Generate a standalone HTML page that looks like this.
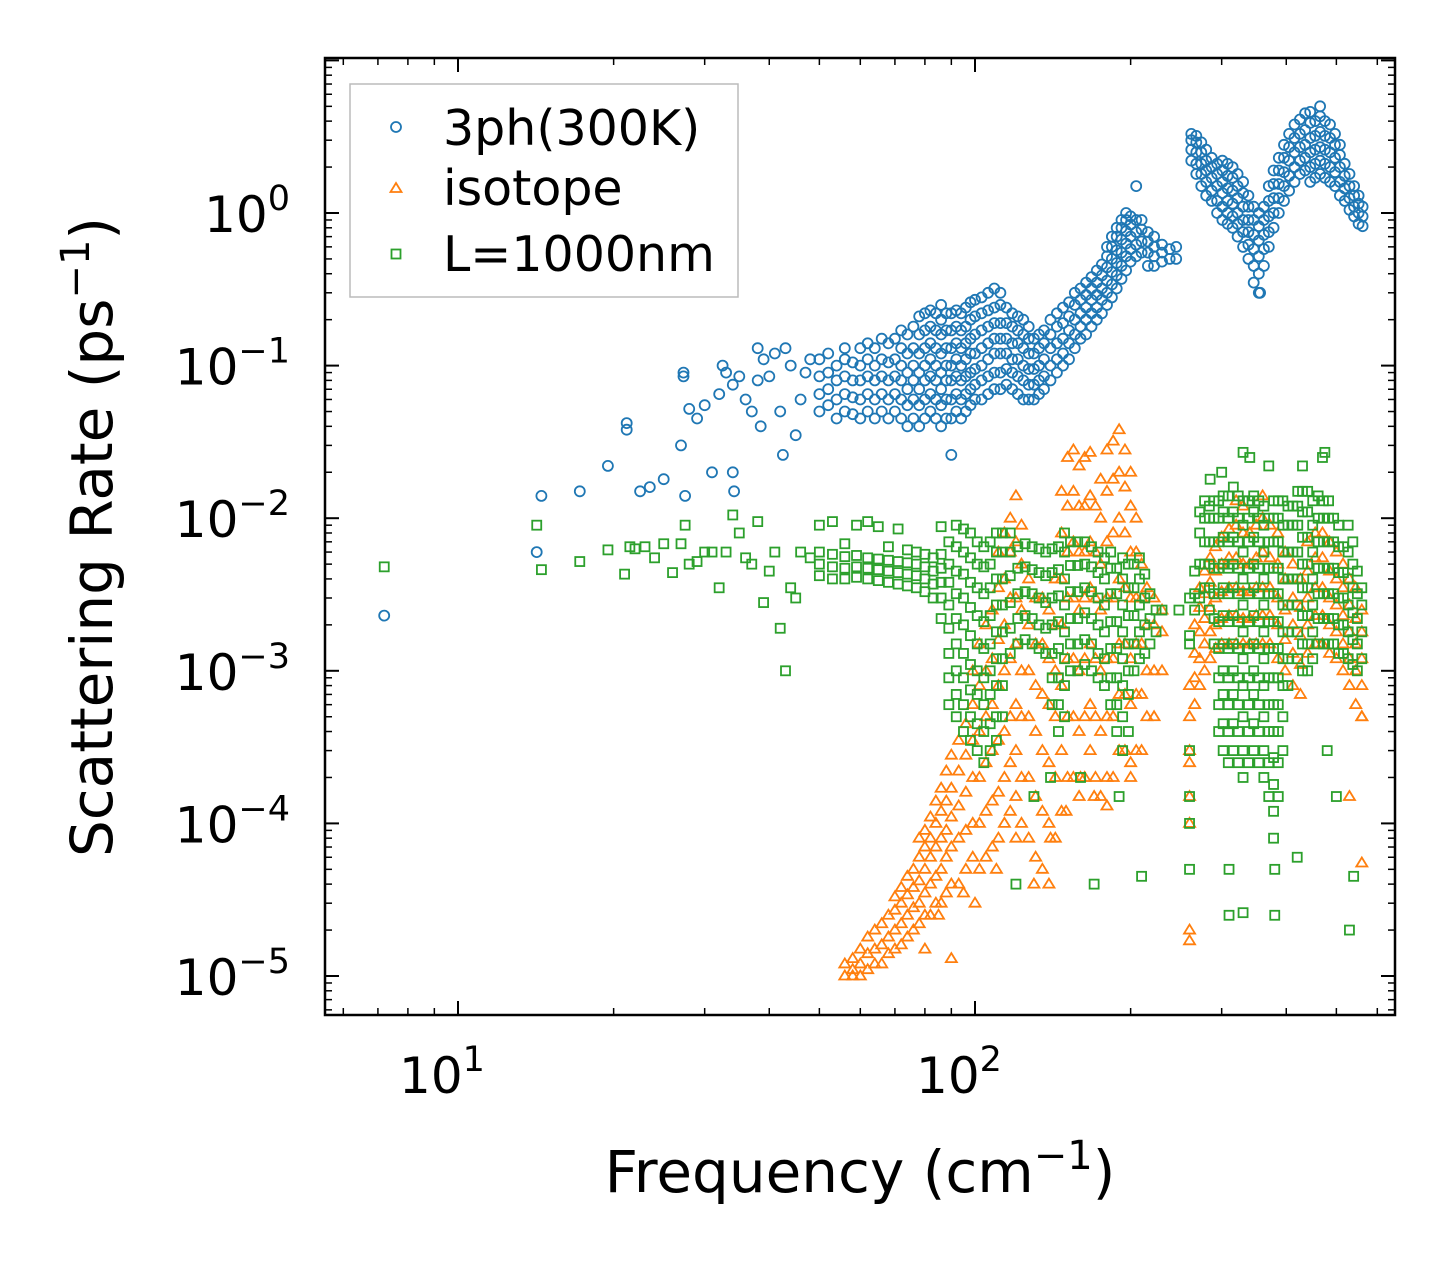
<!DOCTYPE html>
<html><head><meta charset="utf-8"><style>
html,body{margin:0;padding:0;background:#fff;}
svg{display:block;font-family:"DejaVu Sans","Liberation Sans",sans-serif;}
</style></head><body>
<svg id="chart" width="1455" height="1265" viewBox="0 0 1455 1265" xmlns="http://www.w3.org/2000/svg">
<rect width="1455" height="1265" fill="#fff"/>
<g id="marks"></g>
<g id="axes"></g>
<text x="860" y="1192" font-size="58" text-anchor="middle">Frequency (cm<tspan dy="-23" font-size="40">−1</tspan><tspan dy="23">)</tspan></text>
<text transform="translate(112,537) rotate(-90)" font-size="58" text-anchor="middle">Scattering Rate (ps<tspan dy="-23" font-size="40">−1</tspan><tspan dy="23">)</tspan></text>
<g id="legend">
<rect x="350" y="84" width="388" height="213" fill="#fff" stroke="#bbb" stroke-width="1.5"/>
<circle cx="396" cy="127" r="5" fill="none" stroke="#1f77b4" stroke-width="1.8"/>
<text x="443" y="145" font-size="49">3ph(300K)</text>
<polygon points="396,183 401.5,192 390.5,192" fill="none" stroke="#ff7f0e" stroke-width="1.8"/>
<text x="443" y="205" font-size="49">isotope</text>
<rect x="391.5" y="249.5" width="9" height="9" fill="none" stroke="#2ca02c" stroke-width="1.8"/>
<text x="443" y="271" font-size="49">L=1000nm</text>
</g>
</svg>
<script>
// ---- data (frequency cm^-1, rate ps^-1) ----
const blueScatter=[[7.2,0.0023],[14.2,0.006],[14.5,0.014],[17.2,0.015],[19.5,0.022],[21.2,0.042],[21.2,0.038],[22.5,0.015],[23.5,0.016],[25,0.018],[27,0.03],[27.3,0.09],[27.3,0.085],[27.5,0.014],[28,0.052],[29,0.045],[30,0.055],[31,0.02],[32,0.065],[32.5,0.1],[33,0.09],[34,0.02],[34.2,0.015],[34,0.075],[35,0.085],[36,0.06],[37,0.05],[38,0.13],[38,0.08],[38.5,0.04],[39,0.11],[40,0.085],[41,0.12],[42,0.05],[42.5,0.026],[43,0.13],[44,0.1],[45,0.035],[46,0.06],[47,0.09],[48,0.11],[90,0.026],[356,0.3]];
const blueGroups=[[50,[.05,.065,.085,.11]],[52,[.055,.07,.09,.12]],[54,[.045,.06,.08,.1]],[56,[.05,.065,.085,.11,.13]],[58,[.048,.062,.08,.105]],[60,[.045,.06,.08,.1,.13]],[62,[.05,.065,.085,.11,.14]],[64,[.045,.06,.08,.1,.13]],[66,[.05,.065,.085,.11,.15]],[68,[.045,.06,.08,.105,.14]],[70,[.05,.065,.085,.11,.15]],[72,[.045,.06,.08,.1,.13,.17]],[74,[.04,.055,.07,.09,.12,.16]],[76,[.045,.06,.08,.1,.13,.18]],[78,[.04,.055,.07,.09,.12,.16,.21]],[80,[.045,.06,.08,.1,.13,.17,.22]],[82,[.05,.065,.085,.11,.14,.18,.23]],[84,[.045,.06,.08,.1,.13,.17,.22]],[86,[.04,.055,.07,.09,.12,.16,.2,.25]],[88,[.045,.06,.08,.1,.13,.17,.22]],[90,[.045,.06,.08,.1,.13,.17,.22]],[92,[.05,.065,.085,.11,.14,.18,.23]],[94,[.045,.06,.08,.1,.13,.17,.22]],[96,[.05,.065,.085,.11,.14,.18,.24]],[98,[.055,.07,.09,.12,.15,.2,.26]],[100,[.06,.075,.095,.12,.16,.21,.27]],[103,[.06,.08,.1,.13,.17,.22,.28]],[106,[.065,.085,.11,.14,.18,.23,.3]],[109,[.07,.09,.12,.15,.19,.24,.32]],[112,[.07,.09,.12,.15,.19,.25,.3]],[115,[.075,.095,.12,.15,.19,.24]],[118,[.07,.09,.11,.14,.18,.22]],[121,[.065,.085,.11,.14,.17,.21]],[124,[.06,.08,.1,.13,.16,.2]],[127,[.06,.075,.095,.12,.15,.18]],[130,[.06,.075,.095,.12,.15]],[133,[.065,.08,.1,.13,.16]],[136,[.07,.085,.11,.14,.17]],[140,[.08,.1,.13,.16,.2]],[144,[.09,.11,.14,.18,.22]],[148,[.1,.12,.15,.19,.24]],[152,[.11,.14,.17,.21,.26]],[156,[.13,.16,.2,.25,.3]],[160,[.15,.18,.22,.27,.32]],[164,[.16,.2,.24,.29,.35]],[168,[.18,.22,.27,.32,.38]],[172,[.2,.24,.29,.35,.42]],[176,[.22,.27,.32,.39,.46]],[180,[.25,.3,.36,.44,.52,.6]],[184,[.28,.34,.41,.5,.6,.7]],[188,[.32,.39,.47,.57,.7,.8]],[192,[.37,.45,.55,.67,.8,.9]],[196,[.42,.52,.63,.76,.9,1]],[200,[.48,.58,.7,.84,.95]],[205,[.52,.62,.75,.9,1.5]],[210,[.55,.65,.78,.9]],[216,[.45,.55,.65,.75]],[222,[.45,.52,.6,.7]],[230,[.48,.55,.62]],[238,[.5,.58]],[245,[.5,.6]],[262,[2.2,2.6,3,3.3]],[268,[1.8,2.1,2.5,2.9,3.2]],[274,[1.5,1.8,2.1,2.5,2.9]],[280,[1.3,1.6,1.9,2.2,2.6]],[287,[1.2,1.4,1.7,2,2.3]],[294,[1,1.2,1.5,1.8,2.1]],[301,[.9,1.1,1.35,1.6,1.9,2.2]],[308,[.85,1,1.2,1.45,1.75,2.1]],[315,[.8,.95,1.15,1.4,1.7,2]],[322,[.7,.85,1,1.25,1.5,1.8]],[330,[.6,.75,.9,1.1,1.35,1.6]],[338,[.5,.62,.75,.9,1.1,1.3]],[346,[.35,.45,.58,.72,.9,1.1]],[354,[.3,.4,.52,.66,.82,1]],[362,[.45,.58,.72,.9,1.1]],[370,[.6,.75,.95,1.2,1.5]],[378,[.8,1,1.25,1.55,1.9]],[387,[1,1.25,1.55,1.9,2.3]],[396,[1.2,1.5,1.85,2.3,2.8]],[405,[1.4,1.75,2.2,2.7,3.3]],[415,[1.6,2,2.5,3.1,3.8]],[425,[1.8,2.2,2.7,3.3,4.1]],[435,[1.9,2.3,2.8,3.5,4.5]],[445,[1.6,2,2.5,3.1,3.9,4.6]],[455,[1.7,2.1,2.6,3.2,4]],[465,[1.8,2.2,2.7,3.4,4.3,5]],[475,[1.7,2.1,2.6,3.2,4]],[486,[1.6,2,2.5,3.1,3.8]],[497,[1.5,1.85,2.3,2.8,3.3]],[508,[1.3,1.6,2,2.4,2.8]],[519,[1.2,1.45,1.75,2.1]],[530,[1.05,1.25,1.5,1.8]],[541,[.95,1.1,1.3,1.5]],[552,[.85,1,1.15,1.3]],[562,[.82,.95,1.1]]];
const orangeScatter=[[100,3e-5],[110,5e-5],[120,8e-5],[130,4e-5],[140,8e-5],[160,2e-4],[90,1.3e-5],[80,1.5e-5],[85,2.5e-5],[95,3.5e-5],[560,5.5e-5],[530,1.5e-4],[560,5e-4],[200,2e-4],[180,1.3e-4],[150,1.2e-4],[170,1.5e-4]];
const orangeGroups=[[56,[1e-5,1.2e-5]],[58,[1e-5,1.3e-5,1.1e-5]],[60,[1e-5,1.2e-5,1.5e-5]],[62,[1.1e-5,1.4e-5,1.8e-5]],[64,[1.2e-5,1.5e-5,2e-5]],[66,[1.2e-5,1.6e-5,2.2e-5]],[68,[1.4e-5,1.8e-5,2.5e-5]],[70,[1.5e-5,2e-5,2.7e-5,3.3e-5]],[72,[1.6e-5,2.2e-5,3e-5,3.8e-5]],[74,[1.8e-5,2.5e-5,3.4e-5,4.5e-5]],[76,[2e-5,2.8e-5,3.8e-5,5e-5]],[78,[2.2e-5,3e-5,4.2e-5,6e-5,8e-5]],[80,[2.5e-5,3.5e-5,5e-5,7e-5,9e-5]],[82,[2.5e-5,4e-5,6e-5,8e-5,1.1e-4]],[84,[3e-5,4.5e-5,7e-5,1e-4,1.4e-4]],[86,[3e-5,5e-5,8e-5,1.2e-4,1.7e-4]],[88,[3.5e-5,6e-5,9e-5,1.4e-4,2.2e-4]],[90,[4e-5,7e-5,1.1e-4,1.7e-4,2.8e-4]],[93,[4e-5,8e-5,1.3e-4,2.2e-4,3.5e-4]],[96,[5e-5,9e-5,1.6e-4,2.8e-4,4.5e-4]],[99,[6e-5,1e-4,2e-4,3.5e-4,6e-4,1e-3]],[102,[5e-5,1e-4,2e-4,4e-4,8e-4,1.5e-3]],[105,[6e-5,1.2e-4,2.5e-4,5e-4,1e-3,2e-3]],[108,[7e-5,1.4e-4,3e-4,6e-4,1.2e-3,2.5e-3]],[111,[8e-5,1.6e-4,3.5e-4,8e-4,1.6e-3,3.5e-3,6e-3]],[114,[1e-4,2e-4,4e-4,1e-3,2e-3,4e-3,8e-3]],[117,[1.2e-4,2.5e-4,5e-4,1.2e-3,3e-3,6e-3,1e-2]],[120,[1.5e-4,3e-4,6e-4,1.5e-3,3e-3,7e-3,1.4e-2]],[123,[1e-4,2e-4,5e-4,1e-3,2.5e-3,5e-3,9e-3]],[127,[8e-5,2e-4,5e-4,1e-3,2e-3,4e-3]],[131,[6e-5,1.5e-4,4e-4,8e-4,1.5e-3,3e-3]],[135,[5e-5,1.2e-4,3e-4,7e-4,1.5e-3,3e-3]],[139,[4e-5,1e-4,2.5e-4,6e-4,1.2e-3,2.5e-3]],[143,[8e-5,2e-4,5e-4,1e-3,2e-3,4e-3]],[147,[1.2e-4,3e-4,8e-4,2e-3,4e-3,8e-3,1.5e-2]],[151,[2e-4,5e-4,1.2e-3,3e-3,6e-3,1.2e-2,2.5e-2]],[155,[2e-4,5e-4,1.2e-3,3e-3,7e-3,1.5e-2,2.8e-2]],[159,[1.5e-4,4e-4,1e-3,2.5e-3,6e-3,1.2e-2,2.2e-2]],[163,[2e-4,5e-4,1.2e-3,3e-3,6e-3,1.2e-2,2.5e-2]],[167,[3e-4,6e-4,1.5e-3,3.5e-3,7e-3,1.4e-2,2.7e-2]],[171,[2e-4,5e-4,1.2e-3,3e-3,6e-3,1.2e-2]],[175,[1.5e-4,4e-4,1e-3,2.5e-3,5e-3,1e-2,1.8e-2]],[180,[2e-4,5e-4,1.2e-3,3e-3,7e-3,1.5e-2,2.8e-2]],[185,[2e-4,5e-4,1.2e-3,3e-3,8e-3,1.8e-2,3.2e-2]],[190,[3e-4,7e-4,1.5e-3,4e-3,1e-2,2e-2,3.8e-2]],[195,[3e-4,7e-4,1.5e-3,3.5e-3,8e-3,1.6e-2,2.8e-2]],[200,[2.5e-4,6e-4,1.2e-3,3e-3,6e-3,1.2e-2,2e-2]],[205,[3e-4,7e-4,1.5e-3,3e-3,6e-3,1e-2]],[210,[3e-4,7e-4,1.5e-3,3e-3,5e-3]],[215,[5e-4,1e-3,2e-3,3.5e-3]],[222,[5e-4,1e-3,2e-3,3e-3]],[230,[1e-3,1.8e-3,2.5e-3]],[260,[1.7e-5,2e-5,1e-4,1.5e-4,2.5e-4,3e-4,5e-4,8e-4]],[266,[6e-4,9e-4,1.3e-3,2e-3]],[272,[8e-4,1.2e-3,1.8e-3,2.6e-3,3.5e-3]],[278,[1e-3,1.5e-3,2.2e-3,3.2e-3,4.5e-3]],[285,[1.2e-3,1.8e-3,2.6e-3,3.8e-3,5.5e-3]],[292,[1.4e-3,2e-3,3e-3,4.5e-3,6.5e-3]],[300,[1.5e-3,2.2e-3,3.3e-3,5e-3,7.5e-3]],[310,[1.5e-3,2.3e-3,3.5e-3,5.5e-3,8.5e-3]],[320,[1.5e-3,2.3e-3,3.5e-3,5.5e-3,9e-3,1.3e-2]],[330,[1.5e-3,2.2e-3,3.3e-3,5e-3,8e-3,1.2e-2]],[340,[1.5e-3,2.2e-3,3.3e-3,5e-3,8e-3]],[350,[1.5e-3,2.3e-3,3.5e-3,5.5e-3,9e-3]],[360,[1.5e-3,2.3e-3,3.5e-3,6e-3,1e-2,1.4e-2]],[372,[1.5e-3,2.3e-3,3.5e-3,5.5e-3,9e-3]],[385,[1.2e-3,2e-3,3e-3,5e-3,8e-3]],[398,[1e-3,1.6e-3,2.5e-3,4e-3,6e-3]],[412,[8e-4,1.3e-3,2e-3,3e-3,5e-3]],[426,[7e-4,1.1e-3,1.7e-3,2.6e-3,4e-3]],[440,[1.3e-3,2e-3,3e-3,4.5e-3,7e-3]],[455,[1.5e-3,2.3e-3,3.5e-3,5.5e-3,8e-3]],[470,[1.5e-3,2.3e-3,3.5e-3,5.5e-3,8e-3]],[485,[1.3e-3,2e-3,3e-3,4.5e-3,7e-3]],[500,[1.2e-3,1.8e-3,2.7e-3,4e-3,6e-3]],[515,[1e-3,1.5e-3,2.3e-3,3.5e-3,5e-3]],[530,[8e-4,1.2e-3,1.8e-3,2.7e-3,4e-3]],[545,[6e-4,1e-3,1.5e-3,2.2e-3,3.5e-3]],[560,[5e-4,8e-4,1.2e-3,1.8e-3,2.5e-3]]];
const greenScatter=[[7.2,0.0048],[14.2,0.009],[14.5,0.0046],[17.2,0.0052],[19.5,0.0062],[21,0.0043],[21.5,0.0065],[22,0.0063],[23,0.0065],[24,0.0055],[25,0.0068],[26,0.0044],[27,0.0068],[27.5,0.009],[28,0.005],[29,0.0052],[30,0.006],[31,0.006],[32,0.0035],[33,0.006],[34,0.0105],[35,0.008],[36,0.0055],[37,0.005],[38,0.0095],[39,0.0028],[40,0.0045],[41,0.006],[42,0.0019],[43,0.001],[44,0.0035],[45,0.003],[46,0.006],[48,0.0055],[120,4e-5],[130,1.5e-4],[140,2e-4],[160,2e-4],[170,4e-5],[190,1.5e-4],[210,4.5e-5],[230,2.5e-3],[248,2.5e-3],[310,2.5e-5],[330,2.6e-5],[310,5e-5],[380,2.5e-5],[380,5e-5],[420,6e-5],[500,1.5e-4],[530,2e-5],[540,4.5e-5],[480,3e-4],[340,2.5e-2],[330,2.7e-2],[370,2.2e-2],[300,2e-2],[470,2.5e-2],[475,2.7e-2],[430,2.2e-2],[285,1.8e-2]];
const greenGroups=[[50,[.0042,.005,.006,.009]],[53,[.004,.0048,.0058,.0095]],[56,[.004,.0047,.0056,.0068]],[59,[.0041,.0048,.0057,.009]],[62,[.004,.0047,.0055,.0095]],[65,[.0039,.0046,.0054,.0088]],[68,[.0038,.0045,.0053,.0065]],[71,[.0037,.0044,.0052,.0085]],[74,[.0036,.0043,.0051,.0062]],[77,[.0035,.0042,.005,.006]],[80,[.0033,.004,.0048,.0058]],[83,[.003,.0037,.0045,.0055]],[86,[.0022,.003,.0038,.0047,.0058,.0088]],[89,[6e-4,9e-4,1.3e-3,1.9e-3,2.7e-3,3.8e-3,5e-3,7e-3]],[92,[5e-4,7e-4,1e-3,1.5e-3,2.2e-3,3.2e-3,4.5e-3,6.5e-3,9e-3]],[95,[4e-4,6e-4,9e-4,1.3e-3,2e-3,3e-3,4.3e-3,6e-3,8.5e-3]],[98,[3.5e-4,5e-4,7.5e-4,1.1e-3,1.7e-3,2.6e-3,3.8e-3,5.5e-3,8e-3]],[101,[3e-4,4.5e-4,7e-4,1e-3,1.5e-3,2.3e-3,3.5e-3,5e-3,7e-3]],[104,[2.5e-4,4e-4,6e-4,9e-4,1.4e-3,2.1e-3,3.2e-3,4.8e-3,6.5e-3]],[107,[3e-4,4.5e-4,7e-4,1e-3,1.5e-3,2.3e-3,3.5e-3,5e-3,7e-3]],[110,[3.5e-4,5e-4,8e-4,1.2e-3,1.8e-3,2.7e-3,4e-3,6e-3,8e-3]],[113,[5e-4,8e-4,1.2e-3,1.8e-3,2.7e-3,4e-3,6e-3,8e-3]],[117,[1.3e-3,1.9e-3,2.8e-3,4.2e-3,6e-3,8e-3]],[121,[1.5e-3,2.2e-3,3.2e-3,4.7e-3,6.5e-3]],[125,[1.6e-3,2.3e-3,3.3e-3,4.8e-3,6.8e-3]],[129,[1.5e-3,2.2e-3,3.2e-3,4.6e-3,6.5e-3]],[133,[1.4e-3,2e-3,3e-3,4.4e-3,6.3e-3]],[137,[1.3e-3,1.9e-3,2.8e-3,4.2e-3,6e-3]],[141,[6e-4,9e-4,1.3e-3,2e-3,3e-3,4.4e-3,6.3e-3]],[145,[4e-4,6e-4,9e-4,1.4e-3,2.1e-3,3.1e-3,4.6e-3,6.5e-3]],[149,[5e-4,8e-4,1.2e-3,1.8e-3,2.7e-3,4e-3,6e-3,8e-3]],[153,[1e-3,1.5e-3,2.2e-3,3.3e-3,4.9e-3,7e-3]],[158,[1e-3,1.5e-3,2.2e-3,3.3e-3,4.9e-3,7e-3]],[163,[1.1e-3,1.6e-3,2.4e-3,3.5e-3,5e-3,7e-3]],[168,[1e-3,1.5e-3,2.2e-3,3.3e-3,4.8e-3,6.5e-3]],[173,[9e-4,1.3e-3,2e-3,3e-3,4.4e-3,6e-3]],[178,[8e-4,1.2e-3,1.8e-3,2.7e-3,4e-3,5.5e-3]],[183,[6e-4,9e-4,1.4e-3,2.1e-3,3.2e-3,4.7e-3,6e-3]],[188,[4e-4,6e-4,9e-4,1.4e-3,2.1e-3,3.2e-3,4.7e-3]],[193,[3e-4,5e-4,8e-4,1.2e-3,1.8e-3,2.7e-3,4e-3,5.5e-3]],[198,[4e-4,7e-4,1e-3,1.5e-3,2.3e-3,3.5e-3,5e-3]],[203,[1e-3,1.5e-3,2.3e-3,3.5e-3,5e-3]],[208,[1.2e-3,1.8e-3,2.7e-3,4e-3,5.5e-3]],[213,[1.3e-3,2e-3,3e-3,4.3e-3]],[218,[1.5e-3,2.2e-3,3.2e-3]],[224,[1.8e-3,2.5e-3]],[260,[1e-4,1.5e-4,3e-4,5e-5,1.5e-3,1.7e-3,3e-3]],[266,[2.5e-3,3.2e-3,4.5e-3]],[272,[3e-3,5e-3,8e-3,1.1e-2]],[278,[3.5e-3,5e-3,7e-3,1e-2,1.3e-2]],[284,[2.5e-3,3.5e-3,5e-3,7e-3,1e-2,1.2e-2]],[290,[1.5e-3,2.2e-3,3.2e-3,4.7e-3,7e-3,1e-2,1.3e-2]],[296,[4e-4,6e-4,9e-4,1.4e-3,2.1e-3,3.2e-3,4.7e-3,7e-3,1e-2,1.3e-2]],[302,[3e-4,4.5e-4,7e-4,1e-3,1.5e-3,2.3e-3,3.5e-3,5e-3,7.5e-3,1.1e-2,1.4e-2]],[309,[2.5e-4,4e-4,6e-4,9e-4,1.4e-3,2.1e-3,3.2e-3,4.7e-3,7e-3,1e-2,1.4e-2]],[316,[3e-4,4.5e-4,7e-4,1e-3,1.5e-3,2.3e-3,3.5e-3,5e-3,7.5e-3,1.1e-2,1.6e-2]],[323,[2.5e-4,4e-4,6e-4,9e-4,1.4e-3,2.1e-3,3.2e-3,4.7e-3,7e-3,1e-2,1.4e-2]],[330,[2e-4,3e-4,5e-4,8e-4,1.2e-3,1.8e-3,2.7e-3,4e-3,6e-3,9e-3,1.3e-2]],[338,[2.5e-4,4e-4,6e-4,9e-4,1.4e-3,2.1e-3,3.2e-3,4.7e-3,7e-3,1e-2,1.3e-2]],[346,[3e-4,4.5e-4,7e-4,1e-3,1.5e-3,2.3e-3,3.5e-3,5e-3,7.5e-3,1.1e-2,1.4e-2]],[354,[2.5e-4,4e-4,6e-4,9e-4,1.4e-3,2.1e-3,3.2e-3,4.7e-3,7e-3,1e-2,1.3e-2]],[362,[2e-4,3e-4,5e-4,8e-4,1.2e-3,1.8e-3,2.7e-3,4e-3,6e-3,9e-3,1.2e-2]],[370,[1.5e-4,2.5e-4,4e-4,6e-4,9e-4,1.4e-3,2.1e-3,3.2e-3,4.7e-3,7e-3,1e-2]],[378,[8e-5,1.2e-4,1.8e-4,2.7e-4,4e-4,6e-4,9e-4,1.4e-3,2.1e-3,3.2e-3,4.7e-3,7e-3,1e-2,1.3e-2]],[386,[1.5e-4,2.5e-4,4e-4,6e-4,9e-4,1.4e-3,2.1e-3,3.2e-3,4.7e-3,7e-3,1e-2,1.3e-2]],[394,[3e-4,5e-4,8e-4,1.2e-3,1.8e-3,2.7e-3,4e-3,6e-3,9e-3,1.3e-2]],[403,[8e-4,1.2e-3,1.8e-3,2.7e-3,4e-3,6e-3,9e-3,1.2e-2]],[412,[4e-3,6e-3,9e-3,1.2e-2]],[421,[1.2e-3,1.8e-3,2.7e-3,4e-3,6e-3,9e-3,1.2e-2,1.5e-2]],[430,[1e-3,1.5e-3,2.3e-3,3.5e-3,5e-3,7.5e-3,1.1e-2,1.5e-2]],[440,[1e-3,1.5e-3,2.3e-3,3.5e-3,5e-3,7.5e-3,1.1e-2,1.5e-2]],[450,[1.2e-3,1.8e-3,2.7e-3,4e-3,6e-3,9e-3,1.3e-2]],[461,[1.5e-3,2.2e-3,3.2e-3,4.7e-3,7e-3,1e-2,1.4e-2]],[472,[1.5e-3,2.2e-3,3.2e-3,4.7e-3,7e-3,1e-2,1.3e-2]],[483,[1.5e-3,2.2e-3,3.2e-3,4.7e-3,7e-3,1e-2,1.3e-2]],[494,[1.5e-3,2.2e-3,3.2e-3,4.7e-3,7e-3,1e-2]],[505,[1.3e-3,2e-3,3e-3,4.4e-3,6.5e-3,9e-3]],[516,[1.3e-3,2e-3,3e-3,4.4e-3,6.5e-3]],[527,[1.2e-3,1.8e-3,2.7e-3,4e-3,6e-3,9e-3]],[538,[1.1e-3,1.6e-3,2.4e-3,3.5e-3,5e-3,7e-3]],[549,[1e-3,1.5e-3,2.2e-3,3.2e-3,4.5e-3]],[560,[1.2e-3,1.8e-3,2.7e-3,3.5e-3]]];
const xTickValues=[10,100];
const xTickExps=["1","2"];
const yTickValues=[1,0.1,0.01,0.001,0.0001,0.00001];
const yTickExps=["0","−1","−2","−3","−4","−5"];

// ---- axes geometry ----
const L=325,R=1395,T=58,B=1015;
const x10=458,xDec=517, y0=213,yDec=152.6;
const xS=v=>x10+(Math.log10(v)-1)*xDec;
const yS=v=>y0-Math.log10(v)*yDec;
const NS="http://www.w3.org/2000/svg";
const marks=document.getElementById('marks'), axes=document.getElementById('axes');
function mk(tag,attrs,parent){const e=document.createElementNS(NS,tag);for(const k in attrs)e.setAttribute(k,attrs[k]);parent.appendChild(e);return e;}
function expand(groups,scatter){const pts=scatter.slice();groups.forEach(g=>g[1].forEach(v=>pts.push([g[0],v])));return pts;}

expand(blueGroups,blueScatter).forEach(p=>{
  const e=mk('circle',{cx:xS(p[0]).toFixed(1),cy:yS(p[1]).toFixed(1),r:5,fill:'none',stroke:'#1f77b4','stroke-width':1.8},marks);
  
  
});
expand(orangeGroups,orangeScatter).forEach(p=>{
  const x=xS(p[0]),y=yS(p[1]);
  const e=mk('polygon',{points:`${x},${y-5.5} ${x+5.5},${y+3.5} ${x-5.5},${y+3.5}`,fill:'none',stroke:'#ff7f0e','stroke-width':1.8},marks);
  
  
});
expand(greenGroups,greenScatter).forEach(p=>{
  const x=xS(p[0]),y=yS(p[1]);
  const e=mk('rect',{x:x-4.5,y:y-4.5,width:9,height:9,fill:'none',stroke:'#2ca02c','stroke-width':1.8},marks);
  
  
});

const fr=mk('rect',{x:L,y:T,width:R-L,height:B-T,fill:'none',stroke:'#000','stroke-width':2.5},axes);


for(let d=0;d<=3;d++){for(let m=1;m<=9;m++){const v=m*Math.pow(10,d);const x=xS(v);if(x<L||x>R)continue;const len=m===1?14:7;const w=m===1?2:1.5;
  mk('line',{x1:x,x2:x,y1:B,y2:B-len,stroke:'#000','stroke-width':w},axes);
  mk('line',{x1:x,x2:x,y1:T,y2:T+len,stroke:'#000','stroke-width':w},axes);}}
for(let d=-6;d<=1;d++){for(let m=1;m<=9;m++){const v=m*Math.pow(10,d);const y=yS(v);if(y<T||y>B)continue;const len=m===1?14:7;const w=m===1?2:1.5;
  mk('line',{x1:L,x2:L+len,y1:y,y2:y,stroke:'#000','stroke-width':w},axes);
  mk('line',{x1:R,x2:R-len,y1:y,y2:y,stroke:'#000','stroke-width':w},axes);}}
xTickValues.forEach((v,i)=>{const t=mk('text',{x:xS(v)-16,y:1093,'font-size':50,'text-anchor':'middle'},axes);
  
  
  t.textContent='10';const s=mk('tspan',{dy:-22,'font-size':35},t);s.textContent=xTickExps[i];});
yTickValues.forEach((v,i)=>{const t=mk('text',{x:290,y:yS(v)+19,'font-size':50,'text-anchor':'end'},axes);
  
  
  const a=mk('tspan',{},t);a.textContent='10';const s=mk('tspan',{dy:-22,'font-size':35},t);s.textContent=yTickExps[i];});
</script>
</body></html>
